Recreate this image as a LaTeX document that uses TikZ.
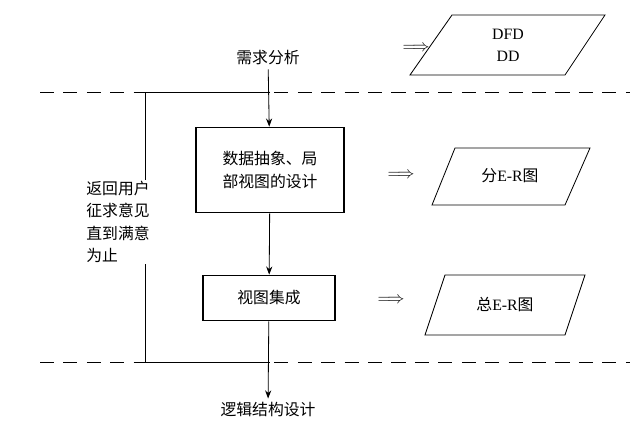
\documentclass[tikz,border=0pt]{standalone}
\usepackage{fontspec}
\setmainfont{Liberation Serif}
\newfontfamily\cjk{Noto Sans CJK SC}
\usetikzlibrary{arrows.meta}
\tikzset{
  stage/.style={draw, line width=1.4pt, align=center},
  doc/.style={draw, line width=0.7pt},
  flow/.style={-{Stealth[length=7pt]}, line width=0.7pt},
  sep/.style={dashed, dash pattern=on 12pt off 8pt, line width=0.7pt},
  lbl/.style={font=\cjk\fontsize{13.5}{19}\selectfont},
  impl/.style={font=\Large}
}
\begin{document}
\begin{tikzpicture}[x=0.03cm, y=-0.03cm, lbl]
  \useasboundingbox (0,0) rectangle (634,431);

  % levels
  \draw[sep] (40,92) -- (630,92);
  \draw[sep] (40,362) -- (630,362);

  \node (need) at (268,58) {需求分析};
  \node[stage, minimum width=4.45cm, minimum height=2.55cm] (abs) at (270,170) {数据抽象、局\\部视图的设计};
  \node[stage, minimum width=3.95cm, minimum height=1.35cm] (merge) at (269,298) {视图集成};
  \node (logic) at (268,410) {逻辑结构设计};

  \coordinate (top) at (270,92);
  \coordinate (bot) at (270,362);
  \draw[flow] (need) -- (abs);
  \draw[flow] (abs) -- (merge);
  \draw[flow] (merge) -- (logic);

  % feedback
  \draw[line width=0.7pt] (top) -| (145,362) -- (bot);
  \node[fill=white, align=left, inner sep=1pt] (back) at (118,222) {返回用户\\征求意见\\直到满意\\为止};

  % documents
  \draw[doc] (410,75) -- (452,15) -- (605,15) -- (565,75) -- cycle;
  \draw[doc] (432,205) -- (455,148) -- (590,148) -- (565,205) -- cycle;
  \draw[doc] (425,335) -- (445,275) -- (585,275) -- (565,335) -- cycle;
  \node[align=center] (dfd) at (508,45) {\rmfamily DFD\\\rmfamily DD};
  \node (part) at (510,176) {分\rmfamily E-R\cjk 图};
  \node (whole) at (505,305) {总\rmfamily E-R\cjk 图};
  \node[impl] (i1) at (416,48) {$\Longrightarrow$};
  \node[impl] (i2) at (401,175) {$\Longrightarrow$};
  \node[impl] (i3) at (391,300) {$\Longrightarrow$};
\end{tikzpicture}
\end{document}
